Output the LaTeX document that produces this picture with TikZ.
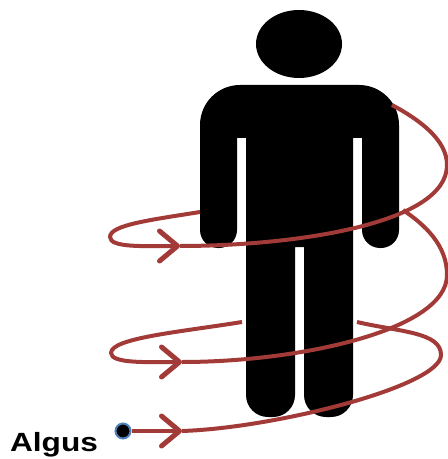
\documentclass[tikz,border=0pt]{standalone}
\usepackage{fontspec}
\setmainfont{Liberation Sans}
\usetikzlibrary{arrows.meta}
\definecolor{spiral}{HTML}{A23B38}
\definecolor{dotedge}{HTML}{4F81BD}
\tikzset{
	helix/.style={draw=spiral, line width=.08cm},
	helixtip/.style={helix, -{Straight Barb[length=.36cm, width=.6cm, round, line width=.1cm]}}
}

\begin{document}
\begin{tikzpicture}[x=.02cm, y=-.02cm]
	\useasboundingbox (0,0) rectangle (447,459);
	\fill (299,44) ellipse (43 and 34);
	\fill[rounded corners=.8cm] (200,180) -- (200,85) -- (399,85) -- (399,180)
		[rounded corners=.36cm] -- (399,248) -- (362,248) -- (362,180)
		[sharp corners] -- (362,138) -- (353,138) -- (353,300)
		[rounded corners=.44cm] -- (353,417) -- (304,417) -- (304,300)
		[sharp corners] -- (304,247) -- (295,247) -- (295,300)
		[rounded corners=.44cm] -- (295,417) -- (246,417) -- (246,300)
		[sharp corners] -- (246,138) -- (237,138) -- (237,200)
		[rounded corners=.36cm] -- (237,248) -- (200,248) -- cycle;
	\node[circle, fill=black, draw=dotedge, line width=.04cm, minimum size=.3cm, inner sep=0pt] (start) at (123,431) {};
	\node[font=\bfseries, xscale=1.8, yscale=1.5, inner sep=0pt] (algus) at (54,445) {Algus};
	\coordinate (t1) at (182,431);
	\coordinate (b1) at (441,355);
	\coordinate (b2) at (357,322);
	\coordinate (c1) at (242,322);
	\coordinate (c2) at (111,353);
	\coordinate (t2) at (182,362);
	\coordinate (c3) at (447,275);
	\coordinate (c4) at (403,210);
	\coordinate (d1) at (200,212);
	\coordinate (d2) at (110,237);
	\coordinate (t3) at (180,246);
	\coordinate (d3) at (447,165);
	\coordinate (d4) at (392,105);
	\draw[helixtip] (start) -- (t1);
	\draw[helix] (t1) .. controls (275,428) and (441,386) .. (b1)
		.. controls (441,332) and (400,332) .. (b2);
	\draw[helixtip] (c1) .. controls (180,332) and (111,338) .. (c2)
		.. controls (111,364) and (150,362) .. (t2);
	\draw[helix] (t2) .. controls (300,362) and (447,330) .. (c3)
		.. controls (447,245) and (425,225) .. (c4);
	\draw[helixtip] (d1) .. controls (150,220) and (110,225) .. (d2)
		.. controls (110,248) and (145,246) .. (t3);
	\draw[helix] (t3) .. controls (290,246) and (447,225) .. (d3)
		.. controls (447,140) and (420,120) .. (d4);
\end{tikzpicture}
\end{document}
